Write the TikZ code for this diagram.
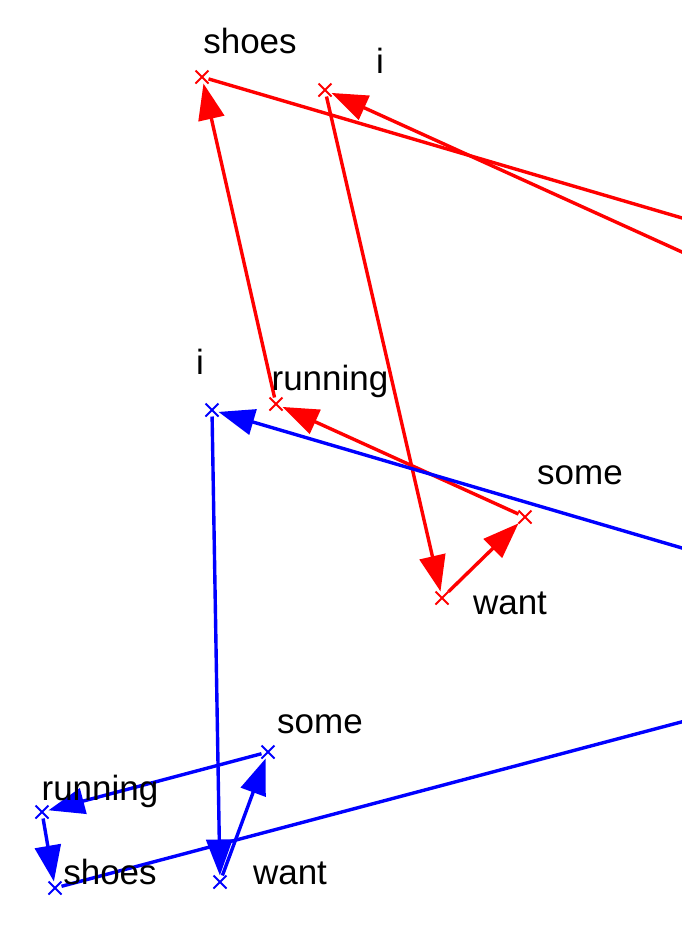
\documentclass[tikz,border=0pt]{standalone}
\usepackage{fontspec}
\setmainfont{Liberation Sans}
\usetikzlibrary{arrows.meta,shapes.misc}

\begin{document}
\begin{tikzpicture}[x=1pt,y=1pt,yscale=-1,
  pt/.style={draw,cross out,minimum size=11pt,inner sep=0pt,line width=2pt},
  lbl/.style={anchor=base,inner sep=0pt,font=\fontsize{35}{40}\selectfont},
  edge/.style={line width=3.4pt,-{Triangle[length=36pt,width=26pt]},shorten >=0pt}]
\useasboundingbox (0,0) rectangle (682,943);
\clip (0,0) rectangle (682,943);

%Red sentence
\node [pt,red] (rshoes) at (202,77) {};
\node [pt,red] (ri) at (325,90) {};
\node [pt,red] (rrunning) at (276,404) {};
\node [pt,red] (rwant) at (442,598) {};
\node [pt,red] (rsome) at (525,517) {};
\coordinate (rin) at (900,351);
\coordinate (rout) at (900,282);

\draw [edge,red] (rin) -- (ri);
\draw [edge,red] (ri) -- (rwant);
\draw [edge,red] (rwant) -- (rsome);
\draw [edge,red] (rsome) -- (rrunning);
\draw [edge,red] (rrunning) -- (rshoes);
\draw [edge,red] (rshoes) -- (rout);

% Text Node
\node [lbl] (trshoes) at (250,53) {shoes};
\node [lbl] (tri) at (380,73) {i};
\node [lbl] (trrunning) at (330,390) {running};
\node [lbl] (trsome) at (580,484) {some};
\node [lbl] (trwant) at (510,614) {want};

%Blue sentence
\node [pt,blue] (bi) at (212,410) {};
\node [pt,blue] (bwant) at (220,882) {};
\node [pt,blue] (bsome) at (268,752) {};
\node [pt,blue] (brunning) at (42,812) {};
\node [pt,blue] (bshoes) at (55,888) {};
\coordinate (bin) at (900,612);
\coordinate (bout) at (900,664);

\draw [edge,blue] (bin) -- (bi);
\draw [edge,blue] (bi) -- (bwant);
\draw [edge,blue] (bwant) -- (bsome);
\draw [edge,blue] (bsome) -- (brunning);
\draw [edge,blue] (brunning) -- (bshoes);
\draw [edge,blue] (bshoes) -- (bout);

% Text Node
\node [lbl] (tbi) at (200,374) {i};
\node [lbl] (tbsome) at (320,733) {some};
\node [lbl] (tbrunning) at (100,800) {running};
\node [lbl] (tbshoes) at (110,884) {shoes};
\node [lbl] (tbwant) at (290,884) {want};
\end{tikzpicture}
\end{document}
